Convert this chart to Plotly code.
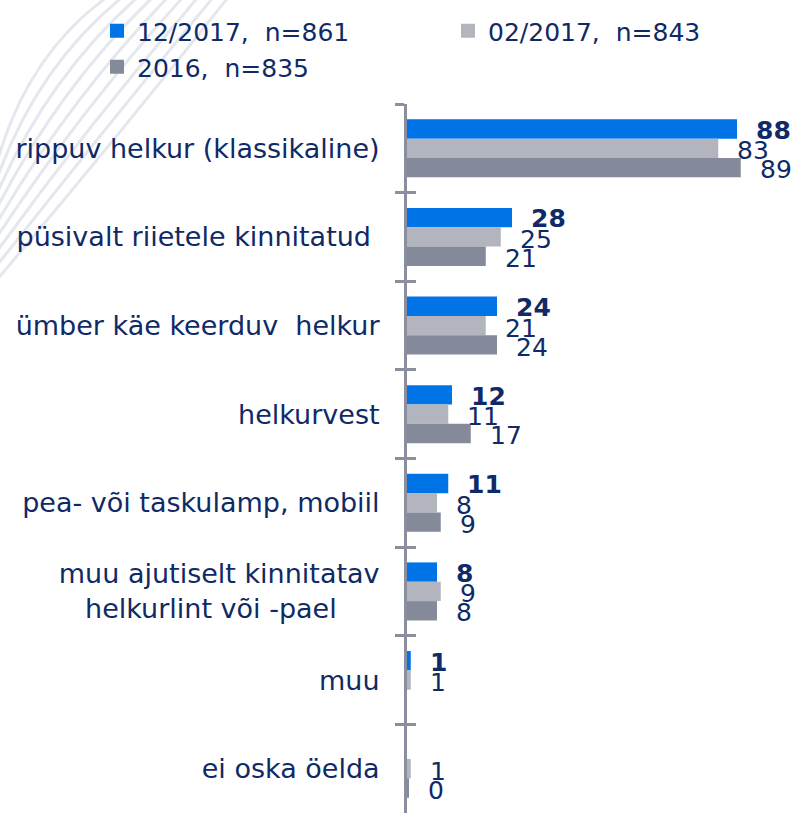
import plotly.graph_objects as go

categories = [
    "rippuv helkur (klassikaline)",
    "püsivalt riietele kinnitatud\u00a0",
    "ümber käe keerduv  helkur",
    "helkurvest",
    "pea- või taskulamp, mobiil",
    "muu ajutiselt kinnitatav<br>helkurlint või -pael\u00a0\u00a0\u00a0\u00a0\u00a0",
    "muu",
    "ei oska öelda",
]
series_names = ["12/2017,  n=861", "02/2017,  n=843", "2016,  n=835"]
dec2017 = [88, 28, 24, 12, 11, 8, 1, None]
feb2017 = [83, 25, 21, 11, 8, 9, 1, 1]
y2016 = [89, 21, 24, 17, 9, 8, None, 0.4]
series_values = [dec2017, feb2017, y2016]

colors = ["#0073E6", "#B3B5BE", "#858A9B"]
navy = "#0F2A66"
axis_col = "#8A8FA0"
font_family = "DejaVu Sans"

W, H = 796, 813
ML, MR, MT, MB = 407, 14, 104, 0
PW, PH = W - ML - MR, H - MT - MB

fig = go.Figure()
for name, vals, col in zip(series_names, series_values, colors):
    fig.add_trace(go.Bar(
        y=categories, x=vals, orientation="h", name=name,
        marker=dict(color=col, line=dict(width=0)),
        showlegend=False,
    ))

# legend entries (separate legends for exact placement)
legend_pos = [(97 / W, 8 / H), (448 / W, 8 / H), (97 / W, 44 / H)]
legend_keys = ["legend", "legend2", "legend3"]
for name, col, key in zip(series_names, colors, legend_keys):
    fig.add_trace(go.Scatter(
        x=[None], y=[None], mode="markers", name=name,
        marker=dict(color=col, symbol="square", size=14),
        showlegend=True, legend=key,
    ))

# invisible helper trace for the crossing tick marks
fig.add_trace(go.Scatter(x=[None], y=[None], yaxis="y2", showlegend=False, hoverinfo="skip"))

annotations = []
yshifts = [18, -2.5, -21.5]
for si, vals in enumerate(series_values):
    for cat, v in zip(categories, vals):
        if v is None:
            continue
        annotations.append(dict(
            x=v, y=cat, xref="x", yref="y",
            text=(f"<b>{round(v)}</b>" if si == 0 else f"{round(v)}"),
            showarrow=False, xanchor="left", yanchor="middle",
            xshift=17, yshift=yshifts[si],
            font=dict(family=font_family, size=25, color=navy),
        ))

layout_legends = {}
for (lx, ly), key in zip(legend_pos, legend_keys):
    layout_legends[key] = dict(
        x=lx, y=1 - ly, xref="container", yref="container",
        xanchor="left", yanchor="top", orientation="h",
        font=dict(family=font_family, size=25, color=navy),
        bgcolor="rgba(0,0,0,0)", itemwidth=30, tracegroupgap=0,
    )


# faint decorative background arcs in the top-left corner
def px(xp):
    return (xp - ML) / PW


def py(yp):
    return 1 - (yp - MT) / PH


shapes = []
for k in range(9):
    x0, y0 = 110 + 15 * k, -5
    x2, y2 = -5, 170 + 14 * k
    cx, cy = 25 + 11 * k, 55 + 11 * k
    path = f"M{px(x0)},{py(y0)} Q{px(cx)},{py(cy)} {px(x2)},{py(y2)}"
    shapes.append(dict(
        type="path", path=path, xref="paper", yref="paper", layer="below",
        line=dict(color="rgba(190,198,214,0.42)", width=3),
    ))

fig.update_layout(
    width=W, height=H,
    margin=dict(l=ML, r=MR, t=MT, b=MB),
    paper_bgcolor="white", plot_bgcolor="rgba(0,0,0,0)",
    barmode="group", bargap=0.345, bargroupgap=0,
    font=dict(family=font_family, color=navy),
    xaxis=dict(range=[0, 100], visible=False, fixedrange=True),
    yaxis=dict(
        type="category", categoryorder="array", categoryarray=categories,
        autorange="reversed", showgrid=False, zeroline=False,
        showline=True, linecolor=axis_col, linewidth=3,
        ticks="outside", tickson="boundaries", ticklen=9, tickwidth=2.5, tickcolor=axis_col,
        ticklabelstandoff=19,
        tickfont=dict(family=font_family, size=27, color=navy),
    ),
    yaxis2=dict(
        overlaying="y", anchor="x", side="left", range=[7.5, -0.5],
        tickvals=[i - 0.5 for i in range(len(categories) + 1)],
        ticks="inside", ticklen=9, tickwidth=2.5, tickcolor=axis_col,
        showticklabels=False, showgrid=False, zeroline=False, showline=False,
    ),
    shapes=shapes,
    annotations=annotations,
    **layout_legends,
)

fig.write_html(
    "out.html",
    config={"displayModeBar": False},
    post_script="document.body.style.margin='0';document.body.style.overflow='hidden';",
)
